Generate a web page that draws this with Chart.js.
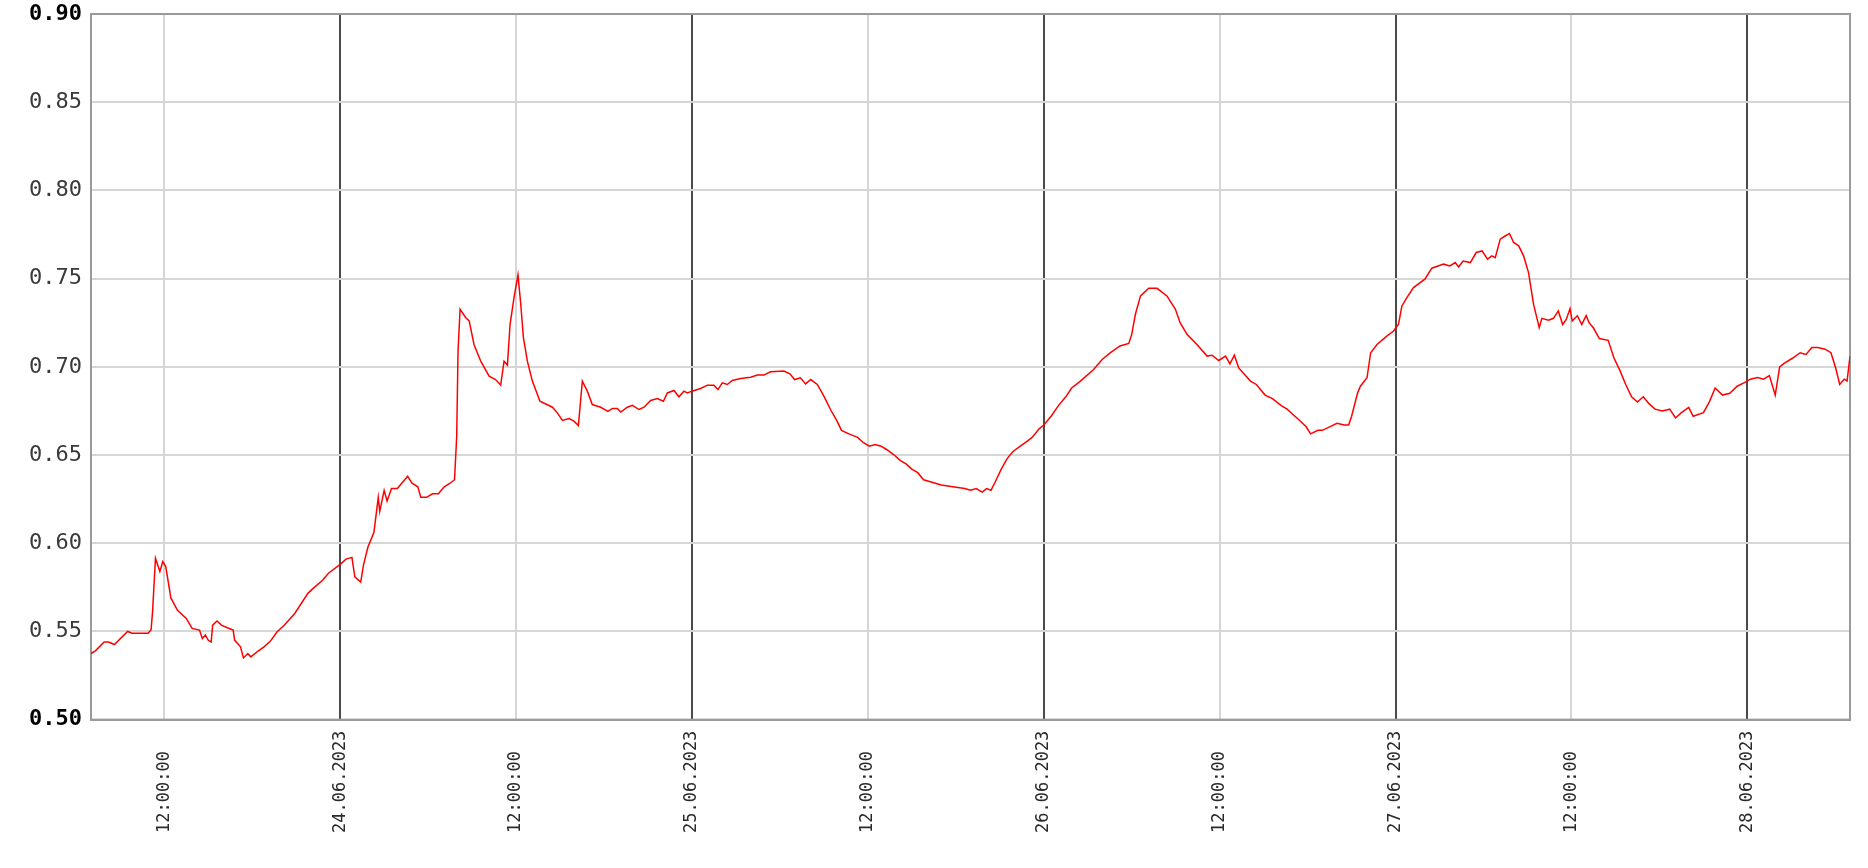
<!DOCTYPE html>
<html>
<head>
<meta charset="utf-8">
<title>Messwerte 23.06.–28.06.2023</title>
<script src="https://cdn.jsdelivr.net/npm/chart.js@4/dist/chart.umd.min.js"></script>
<style>
    html, body { margin: 0; padding: 0; background: #fff; }
    #chart-box { width: 1868px; height: 868px; }
</style>
</head>
<body>
<div id="chart-box"><canvas id="level-chart" width="1868" height="868"></canvas></div>
<script>
// Hours counted from 23.06.2023 00:00 (range 07:00 on 23.06 .. 07:00 on 28.06)
const X_MIN = 7;
const X_MAX = 127;

// x-axis tick positions (every 12 h) and y range
const X_TICKS = [12, 24, 36, 48, 60, 72, 84, 96, 108, 120];
const Y_MIN = 0.50;
const Y_MAX = 0.90;
const Y_STEP = 0.05;

const hours = [
    7.0, 7.3, 7.9, 8.2, 8.6, 9.5, 9.8, 10.9, 11.1, 11.2, 11.4, 11.7, 11.9, 12.1, 12.45, 12.9,
    13.5, 13.9, 14.4, 14.6, 14.8, 15.0, 15.2, 15.3, 15.6, 15.9, 16.3, 16.7, 16.8, 17.2, 17.4,
    17.7, 17.9, 18.4, 18.8, 19.2, 19.7, 20.2, 20.9, 21.8, 22.1, 22.8, 23.2, 24.0, 24.4, 24.8,
    25.0, 25.4, 25.6, 25.9, 26.3, 26.6, 26.7, 27.0, 27.2, 27.5, 27.9, 28.2, 28.6, 28.9, 29.3,
    29.5, 29.9, 30.3, 30.7, 31.1, 31.5, 31.8, 31.95, 32.04, 32.18, 32.57, 32.8, 33.13, 33.59,
    34.16, 34.6, 34.95, 35.18, 35.41, 35.59, 35.86, 36.13, 36.32, 36.5, 36.77, 37.11, 37.63,
    38.48, 38.82, 39.16, 39.61, 39.95, 40.25, 40.52, 40.86, 41.2, 41.77, 42.27, 42.57, 42.91,
    43.14, 43.59, 43.93, 44.39, 44.73, 45.18, 45.64, 46.05, 46.32, 46.77, 47.11, 47.45, 47.68,
    48.0, 48.59, 49.05, 49.5, 49.77, 50.07, 50.41, 50.75, 51.32, 52.0, 52.46, 52.9, 53.36,
    54.27, 54.68, 55.0, 55.4, 55.75, 56.1, 56.55, 57.0, 57.45, 57.9, 58.2, 58.7, 59.0, 59.3,
    59.7, 60.1, 60.5, 60.9, 61.3, 61.8, 62.2, 62.6, 63.0, 63.4, 63.8, 64.2, 65.0, 65.8, 66.6,
    67.0, 67.4, 67.8, 68.1, 68.4, 68.7, 69.1, 69.5, 69.9, 70.4, 70.9, 71.2, 71.7, 72.0, 72.5,
    73.0, 73.5, 73.9, 74.5, 75.4, 75.98, 76.55, 77.2, 77.8, 78.0, 78.25, 78.6, 79.16, 79.73,
    80.4, 80.98, 81.3, 81.77, 82.45, 83.14, 83.48, 83.93, 84.4, 84.7, 85.0, 85.3, 86.1, 86.5,
    87.1, 87.6, 88.2, 88.6, 89.0, 89.4, 89.9, 90.2, 90.7, 91.0, 91.5, 92.0, 92.5, 92.8, 93.0,
    93.4, 93.6, 94.05, 94.3, 94.73, 95.4, 95.86, 96.2, 96.43, 96.77, 97.22, 98.0, 98.47, 99.27,
    99.7, 100.07, 100.3, 100.6, 101.1, 101.5, 101.9, 102.27, 102.57, 102.8, 103.14, 103.5,
    103.77, 104.05, 104.4, 104.73, 105.07, 105.41, 105.8, 105.98, 106.43, 106.77, 107.1, 107.4,
    107.65, 107.9, 108.05, 108.4, 108.7, 109.0, 109.2, 109.5, 109.9, 110.5, 110.9, 111.3,
    111.7, 112.1, 112.5, 112.9, 113.3, 113.7, 114.2, 114.7, 115.1, 115.5, 116.0, 116.3, 117.0,
    117.4, 117.8, 118.3, 118.8, 119.3, 119.8, 120.2, 120.7, 121.1, 121.5, 121.9, 122.2, 122.5,
    123.1, 123.6, 124.0, 124.4, 124.8, 125.3, 125.7, 126.0, 126.3, 126.6, 126.8, 127.0
];

const values = [
    0.5375, 0.539, 0.544, 0.544, 0.5426, 0.550, 0.549, 0.549, 0.551, 0.561, 0.5915, 0.584, 0.5896, 0.5868, 0.569, 0.562,
    0.5574, 0.5517, 0.5508, 0.546, 0.548, 0.545, 0.544, 0.5536, 0.5559, 0.5536, 0.5521, 0.5508, 0.5451, 0.5413, 0.535,
    0.5375, 0.5356, 0.5389, 0.5413, 0.5441, 0.5498, 0.5536, 0.5602, 0.5716, 0.574, 0.579, 0.583, 0.588, 0.591, 0.592,
    0.581, 0.578, 0.588, 0.598, 0.606, 0.626, 0.618, 0.630, 0.624, 0.631, 0.631, 0.634, 0.638, 0.634, 0.632,
    0.626, 0.626, 0.628, 0.628, 0.632, 0.634, 0.636, 0.6606, 0.7089, 0.7326, 0.7278, 0.726, 0.7127, 0.7032,
    0.6947, 0.6928, 0.6896, 0.7032, 0.701, 0.7241, 0.7392, 0.7521, 0.7355, 0.7165, 0.7032, 0.6919, 0.6805,
    0.6771, 0.6739, 0.6696, 0.6707, 0.6692, 0.6667, 0.6919, 0.6862, 0.6786, 0.6771, 0.6748, 0.6764, 0.6764,
    0.6744, 0.6771, 0.6782, 0.6758, 0.6771, 0.6809, 0.682, 0.6805, 0.6852, 0.6866, 0.683, 0.6862, 0.6852,
    0.6862, 0.6877, 0.6896, 0.6896, 0.6871, 0.6909, 0.690, 0.6923, 0.6934, 0.6941, 0.6953, 0.6953, 0.6972,
    0.6976, 0.696, 0.6928, 0.6938, 0.6903, 0.6928, 0.690, 0.6834, 0.6758, 0.6692, 0.664, 0.662, 0.661, 0.660,
    0.657, 0.655, 0.656, 0.655, 0.653, 0.650, 0.647, 0.645, 0.642, 0.640, 0.636, 0.635, 0.633, 0.632, 0.631,
    0.630, 0.631, 0.629, 0.631, 0.630, 0.635, 0.642, 0.648, 0.652, 0.655, 0.658, 0.660, 0.665, 0.667, 0.672,
    0.678, 0.683, 0.688, 0.6919, 0.6985, 0.7042, 0.708, 0.7118, 0.7133, 0.7184, 0.7298, 0.7402, 0.7445, 0.7445,
    0.7402, 0.7326, 0.725, 0.7184, 0.7127, 0.7061, 0.7066, 0.7036, 0.7061, 0.7017, 0.7066, 0.6994, 0.6919, 0.690,
    0.684, 0.682, 0.678, 0.676, 0.673, 0.670, 0.666, 0.662, 0.664, 0.664, 0.666, 0.668, 0.667, 0.667, 0.672,
    0.685, 0.689, 0.6938, 0.708, 0.7127, 0.7174, 0.7203, 0.7241, 0.7345, 0.7392, 0.7449, 0.7497, 0.7559, 0.7582,
    0.7572, 0.7591, 0.7566, 0.760, 0.7591, 0.7648, 0.7657, 0.761, 0.7629, 0.7619, 0.7724, 0.7743,
    0.7756, 0.7705, 0.7686, 0.7629, 0.7534, 0.7355, 0.7222, 0.7275, 0.7264, 0.7275, 0.7317, 0.724,
    0.727, 0.733, 0.726, 0.729, 0.724, 0.729, 0.725, 0.722, 0.716, 0.715, 0.705, 0.698,
    0.690, 0.683, 0.680, 0.683, 0.679, 0.676, 0.675, 0.676, 0.671, 0.674, 0.677, 0.672, 0.674,
    0.680, 0.688, 0.684, 0.685, 0.689, 0.691, 0.693, 0.694, 0.693, 0.695, 0.684, 0.700, 0.702,
    0.705, 0.708, 0.707, 0.711, 0.711, 0.710, 0.708, 0.700, 0.690, 0.693, 0.692, 0.706
];

const LINE_COLOR = '#ff0000';
const GRID_MINOR = '#d6d6d6';
const GRID_DAY = '#4a4a4a';
const FRAME_COLOR = '#9a9a9a';
const FONT_MONO = '"DejaVu Sans Mono", "Liberation Mono", monospace';

function isEdge(v) {
    return Math.abs(v - Y_MIN) < 1e-6 || Math.abs(v - Y_MAX) < 1e-6;
}

function tickIsEdge(ctx) {
    return !!(ctx && ctx.tick && isEdge(ctx.tick.value));
}

function xLabel(h) {
    if (h % 24 === 0) {
        const day = 23 + h / 24;
        return `${String(day).padStart(2, '0')}.06.2023`;
    }
    // trailing blanks keep the label starts lined up at the bottom
    return '12:00:00  ';
}

// frame around the plot area (top + right edges)
const framePlugin = {
    id: 'plotFrame',
    beforeDatasetsDraw(chart) {
        const { ctx, chartArea } = chart;
        ctx.save();
        ctx.strokeStyle = FRAME_COLOR;
        ctx.lineWidth = 2;
        ctx.strokeRect(chartArea.left, chartArea.top, chartArea.width, chartArea.height);
        ctx.restore();
    }
};

const points = hours.map((h, i) => ({ x: h, y: values[i] }));

new Chart(document.getElementById('level-chart'), {
    type: 'line',
    data: {
        datasets: [{
            data: points,
            borderColor: LINE_COLOR,
            borderWidth: 1.5,
            pointRadius: 0,
            tension: 0,
            fill: false
        }]
    },
    options: {
        responsive: false,
        animation: false,
        layout: { padding: { left: 20, right: 18, top: 14, bottom: 24 } },
        plugins: {
            legend: { display: false },
            tooltip: { enabled: false }
        },
        scales: {
            x: {
                type: 'linear',
                min: X_MIN,
                max: X_MAX,
                afterBuildTicks(scale) {
                    scale.ticks = X_TICKS.map(v => ({ value: v }));
                },
                grid: {
                    drawTicks: false,
                    color: ctx => (ctx.tick && ctx.tick.value % 24 === 0) ? GRID_DAY : GRID_MINOR,
                    lineWidth: 2
                },
                border: { display: true, color: FRAME_COLOR, width: 2 },
                ticks: {
                    autoSkip: false,
                    maxRotation: 90,
                    minRotation: 90,
                    padding: 11,
                    color: '#2a2a2a',
                    font: { family: FONT_MONO, size: 17 },
                    callback: value => xLabel(value)
                }
            },
            y: {
                min: Y_MIN,
                max: Y_MAX,
                afterFit(scale) {
                    // the top label may overhang the plot; keep the plot at the top edge
                    scale.paddingTop = 10;
                    scale.paddingBottom = 10;
                },
                grid: {
                    drawTicks: false,
                    color: ctx => tickIsEdge(ctx) ? FRAME_COLOR : GRID_MINOR,
                    lineWidth: 2
                },
                border: { display: true, color: FRAME_COLOR, width: 2 },
                ticks: {
                    stepSize: Y_STEP,
                    padding: 9,
                    color: ctx => tickIsEdge(ctx) ? '#000' : '#3a3a3a',
                    font: ctx => ({
                        family: FONT_MONO,
                        size: 22,
                        weight: tickIsEdge(ctx) ? 'bold' : 'normal'
                    }),
                    callback: value => value.toFixed(2)
                }
            }
        }
    },
    plugins: [framePlugin]
});
</script>
</body>
</html>
